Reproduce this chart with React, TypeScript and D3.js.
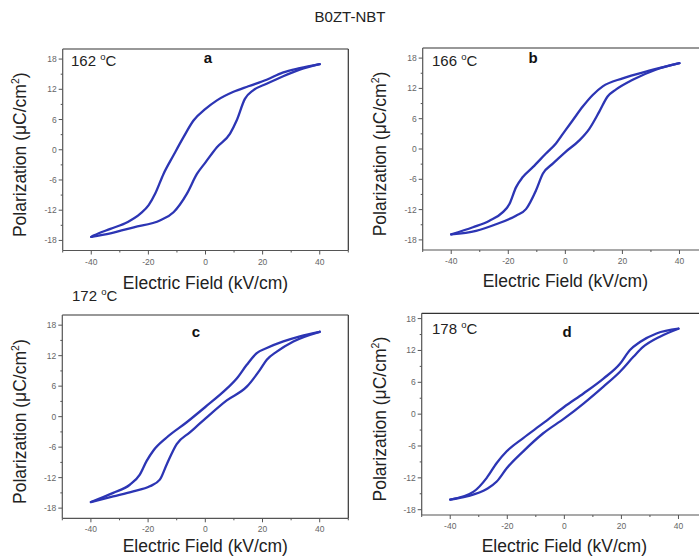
import React from "react";
import * as d3 from "d3";

const TITLE = "B0ZT-NBT";
const panelIds = ["a", "b", "c", "d"];
const temperatures = ["162", "166", "172", "178"];
const xTicks = [-40, -20, 0, 20, 40];
const xMinor = [-50, -30, -10, 10, 30, 50];
const yTicks = [-18, -12, -6, 0, 6, 12, 18];
const yMinor = [-15, -9, -3, 3, 9, 15];

// Upper branch: field decreasing +40 -> -40
const aUpperE = [40, 33, 27, 21.4, 15, 9.8, 4, 0, -4.2, -7.7, -11.2, -14.7, -17.6, -19.9, -22.8, -27.4, -33.3, -39, -40];
const aUpperP = [17, 16.2, 15.3, 13.9, 12.6, 11.5, 9.8, 8.1, 5.8, 2.5, -1.1, -4.8, -8.7, -11, -12.7, -14.4, -15.7, -17, -17.3];
const aLowerE = [-40, -33.3, -25.1, -15.8, -11.2, -6.5, -3, 0, 4, 8.6, 10.9, 13.8, 16.7, 21.4, 27.2, 33, 40];
const aLowerP = [-17.3, -16.6, -15.4, -14, -12.4, -8.7, -4.8, -2.5, 0.5, 3.2, 5.8, 10.1, 11.8, 13.1, 14.6, 15.9, 17];

const bUpperE = [40, 29.4, 20.1, 13.1, 9.6, 6.1, 2.6, 0, -3.3, -6.8, -11.4, -15, -17.3, -19.6, -21.9, -26.6, -32.4, -40];
const bUpperP = [17, 15.5, 14, 12.4, 10.7, 8.4, 5.7, 3.7, 1.1, -0.9, -3.6, -5.6, -7.6, -10.9, -12.5, -14.2, -15.5, -16.9];
const bLowerE = [-40, -31.3, -24.3, -17.3, -13.8, -10.3, -7.9, -4.4, 0, 4.9, 8.4, 11.9, 14.8, 17.8, 23.6, 31.7, 40];
const bLowerP = [-16.9, -16.2, -14.9, -13.2, -11.9, -8.2, -4.9, -2.9, -0.6, 1.7, 4, 7.4, 10.4, 11.8, 13.7, 15.7, 17];

const cUpperE = [40, 33.1, 27.3, 21.5, 18, 14.5, 11, 7.5, 0, -6.5, -13.5, -18.2, -20.5, -22.9, -26.4, -32.2, -40];
const cUpperP = [16.7, 15.8, 14.8, 13.5, 12.5, 10.2, 7.5, 5.5, 1.9, -1.1, -4.1, -6.7, -8.7, -11.4, -13.4, -15, -16.8];
const cLowerE = [-40, -32.2, -25.2, -19.4, -15.9, -13.5, -10, -5.4, 0, 7.5, 14.5, 19.1, 21.5, 25, 30.8, 40];
const cLowerP = [-16.8, -15.7, -14.7, -13.7, -12.4, -9.4, -5.4, -3.1, -0.4, 3.2, 5.9, 9.2, 11.2, 12.8, 14.8, 16.7];

const dUpperE = [40, 32.3, 26.5, 23, 19.5, 13.7, 6.7, 0, -7.4, -14.4, -20.2, -23.7, -27.2, -31.8, -40];
const dUpperP = [16.1, 15.2, 13.6, 12.1, 9.5, 6.7, 3.9, 1.4, -1.7, -4.5, -7, -9.2, -12, -14.6, -16.1];
const dLowerE = [-40, -34.2, -27.2, -23.7, -20.2, -14.4, -7.4, 0, 6.7, 13.7, 19.5, 24.2, 27.7, 33.5, 40];
const dLowerP = [-16.1, -15.5, -14.1, -12.7, -10.2, -7, -3.6, -0.8, 2, 5.2, 8, 10.8, 12.7, 14.6, 16.1];

const loops = [
  { ue: aUpperE, up: aUpperP, le: aLowerE, lp: aLowerP },
  { ue: bUpperE, up: bUpperP, le: bLowerE, lp: bLowerP },
  { ue: cUpperE, up: cUpperP, le: cLowerE, lp: cLowerP },
  { ue: dUpperE, up: dUpperP, le: dLowerE, lp: dLowerP },
];

const layouts = [
  { x0: 62.7, x1: 348.3, yT: 49, yB: 250.5, yDom: [-20, 20], ylx: 26, xlY: 289, tempX: 71, tempY: 66, letX: 208, letY: 63 },
  { x0: 422.7, x1: 708, yT: 48, yB: 250, yDom: [-20, 20], ylx: 386, xlY: 287, tempX: 432, tempY: 66, letX: 533, letY: 63 },
  { x0: 62.3, x1: 348.3, yT: 315, yB: 518.3, yDom: [-20, 20], ylx: 26, xlY: 552, tempX: 72, tempY: 301, letX: 196, letY: 337 },
  { x0: 421.7, x1: 707, yT: 313.3, yB: 515, yDom: [-19, 19], ylx: 386, xlY: 552, tempX: 432, tempY: 334, letX: 567, letY: 337 },
];

const BLUE = "#2c35b4";
const FONT = "'Liberation Sans', Arial, sans-serif";

function Panel({ idx }: { idx: number }) {
  const L = layouts[idx];
  const data = loops[idx];
  const x = d3.scaleLinear().domain([-50, 50]).range([L.x0, L.x1]);
  const y = d3.scaleLinear().domain(L.yDom).range([L.yB, L.yT]);
  const upper: [number, number][] = data.ue.map((e, i) => [e, data.up[i]] as [number, number]).reverse();
  const lower: [number, number][] = data.le.map((e, i) => [e, data.lp[i]] as [number, number]);
  const line = d3.line<[number, number]>().x(d => x(d[0])).y(d => y(d[1])).curve(d3.curveMonotoneX);
  const midX = x(0);
  const midY = (L.yT + L.yB) / 2;
  return (
    <g>
      <line x1={L.x0} x2={L.x1} y1={L.yT} y2={L.yT} stroke="#333" strokeWidth={1.2} />
      <line x1={L.x1} x2={L.x1} y1={L.yT} y2={L.yB} stroke="#333" strokeWidth={1.2} />
      <line x1={L.x0} x2={L.x0} y1={L.yT} y2={L.yB} stroke="#555" strokeWidth={1.2} />
      <line x1={L.x0} x2={L.x1} y1={L.yB} y2={L.yB} stroke="#555" strokeWidth={1.2} />
      {yTicks.map(t => (
        <g key={"yt" + t}>
          <line x1={L.x0 - 4} x2={L.x0} y1={y(t)} y2={y(t)} stroke="#555" />
          <text x={L.x0 - 6} y={y(t) + 3} fontSize={8.5} fill="#666" textAnchor="end" fontFamily={FONT}>{t}</text>
        </g>
      ))}
      {yMinor.map(t => (
        <line key={"ym" + t} x1={L.x0 - 2} x2={L.x0} y1={y(t)} y2={y(t)} stroke="#555" />
      ))}
      {xTicks.map(t => (
        <g key={"xt" + t}>
          <line x1={x(t)} x2={x(t)} y1={L.yB} y2={L.yB + 4} stroke="#555" />
          <text x={x(t)} y={L.yB + 14} fontSize={8.5} fill="#666" textAnchor="middle" fontFamily={FONT}>{t}</text>
        </g>
      ))}
      {xMinor.map(t => (
        <line key={"xm" + t} x1={x(t)} x2={x(t)} y1={L.yB} y2={L.yB + 2} stroke="#555" />
      ))}
      <path d={line(upper) || ""} fill="none" stroke={BLUE} strokeWidth={2.3} strokeLinecap="round" />
      <path d={line(lower) || ""} fill="none" stroke={BLUE} strokeWidth={2.3} strokeLinecap="round" />
      <text x={L.tempX} y={L.tempY} fontSize={15} fill="#222" fontFamily={FONT}>
        {temperatures[idx] + " "}
        <tspan fontSize={9.5} dy={-6}>o</tspan>
        <tspan dy={6}>C</tspan>
      </text>
      <text x={L.letX} y={L.letY} fontSize={15} fontWeight="bold" fill="#111" textAnchor="middle" fontFamily={FONT}>{panelIds[idx]}</text>
      <text x={midX} y={L.xlY} fontSize={17.5} fill="#222" textAnchor="middle" fontFamily={FONT}>Electric Field (kV/cm)</text>
      <text transform={`translate(${L.ylx},${midY + 5}) rotate(-90)`} fontSize={17.5} fill="#222" textAnchor="middle" fontFamily={FONT}>
        Polarization (μC/cm<tspan fontSize={10.5} dy={-7}>2</tspan><tspan dy={7}>)</tspan>
      </text>
    </g>
  );
}

export default function App() {
  return (
    <svg width={699} height={558} style={{ position: "absolute", left: 0, top: 0, background: "#fff" }}>
      <rect width={699} height={558} fill="#fff" />
      <text x={350} y={22} fontSize={15} textAnchor="middle" fill="#222" fontFamily={FONT}>{TITLE}</text>
      {panelIds.map((_, i) => <Panel key={i} idx={i} />)}
    </svg>
  );
}
